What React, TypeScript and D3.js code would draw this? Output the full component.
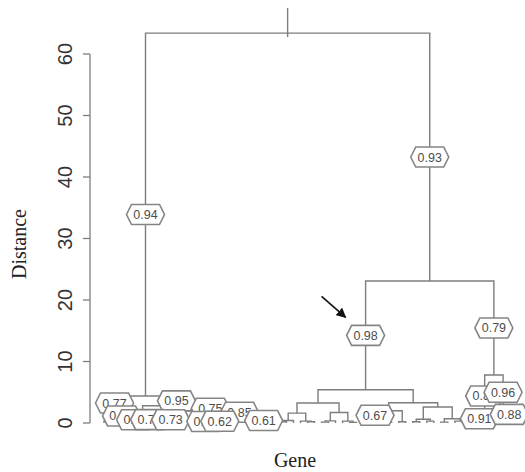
import * as d3 from "d3";

const leafCount = 60;

// hclust-style merge rows: [left, right, height]; negative = leaf (1-based), positive = earlier row (1-based)
const merges: [number, number, number][] = [
  [-1, -2, 0.3], [-3, -4, 0.2], [1, 2, 2.1], [-5, -6, 0.15], [-7, -8, 0.2],
  [4, 5, 0.9], [-9, -10, 0.05], [-11, -12, 0.05], [7, 8, 0.15], [-13, -14, 0.2],
  [9, 10, 0.9], [-15, -16, 0.1], [-17, -18, 0.15], [12, 13, 0.4], [-19, -20, 0.1],
  [14, 15, 0.7], [-21, -22, 0.1], [-24, -25, 0.05], [-23, 18, 0.2], [17, 19, 0.6],
  [16, 20, 1.5], [11, 21, 2.0], [6, 22, 2.8], [3, 23, 4.4],
  [-26, -27, 0.2], [25, -28, 0.4], [-30, -31, 0.2], [-29, 27, 0.3], [26, 28, 1.6],
  [-32, -33, 0.15], [30, -34, 0.35], [-36, -37, 0.1], [-35, 32, 0.3], [31, 33, 1.7],
  [29, 34, 3.25],
  [-38, -39, 0.2], [-41, -42, 0.1], [-40, 37, 0.15], [36, 38, 0.5], [-43, -44, 0.2],
  [39, 40, 2.0], [-45, -46, 0.2], [-47, -48, 0.3], [42, 43, 0.6], [-49, -50, 0.15],
  [-52, -53, 0.1], [-51, 46, 0.3], [45, 47, 0.7], [44, 48, 2.6], [41, 49, 3.3],
  [35, 50, 5.4],
  [-54, -55, 0.4], [52, -56, 1.0], [-59, -60, 0.2], [-58, 54, 0.6], [-57, 55, 2.2],
  [53, 56, 7.8], [51, 57, 23.1], [24, 58, 63.4],
];

// AU p-values shown in boxes, in drawing order
const auNodes = [24, 58, 51, 57, 3, 23, 22, 21, 2, 4, 5, 9, 12, 13, 19, 39, 53, 56, 52, 55];
const auValues = [0.94, 0.93, 0.98, 0.79, 0.77, 0.95, 0.75, 0.85, 0.48, 0.66, 0.74, 0.73, 0.45, 0.62, 0.61, 0.67, 0.83, 0.96, 0.91, 0.88];

const highlightNode = 51;
const stemTop = 67.5;
const yTicks = [0, 10, 20, 30, 40, 50, 60];

export default function App() {
  const width = 525;
  const height = 472;
  const x = d3.scaleLinear().domain([0, leafCount - 1]).range([104, 518]);
  const y = d3.scaleLinear().domain([0, 60]).range([423, 54]);

  const nodeX: number[] = [];
  const nodeH: number[] = [];
  const parentOf: number[] = [];
  const cx = (c: number) => (c < 0 ? x(-c - 1) : nodeX[c - 1]);
  const ch = (c: number) => (c < 0 ? 0 : nodeH[c - 1]);

  const paths: string[] = [];
  merges.forEach(([a, b, h], i) => {
    nodeX[i] = (cx(a) + cx(b)) / 2;
    nodeH[i] = h;
    if (a > 0) parentOf[a - 1] = i;
    if (b > 0) parentOf[b - 1] = i;
    paths.push(`M${cx(a)},${y(ch(a))}V${y(h)}H${cx(b)}V${y(ch(b))}`);
  });
  const root = merges.length - 1;
  paths.push(`M${nodeX[root]},${y(nodeH[root]) + 4}V${y(stemTop)}`);

  const labelPos = (k: number) => {
    const i = k - 1;
    const p = parentOf[i];
    return [nodeX[i], y((nodeH[i] + nodeH[p]) / 2)];
  };
  const [hx, hy] = labelPos(highlightNode);

  const hex = "-19,0 -14,-10 14,-10 19,0 14,10 -14,10";
  const grey = "#7d7d7d";

  return (
    <svg width={width} height={height} style={{ position: "absolute", left: 0, top: 0, background: "#fff" }}>
      <defs>
        <marker id="ah" viewBox="0 0 10 10" refX="9" refY="5" markerWidth="10" markerHeight="10" markerUnits="userSpaceOnUse" orient="auto">
          <path d="M0,0L10,5L0,10z" fill="#111" />
        </marker>
      </defs>

      <g fill="none" stroke={grey} strokeWidth={1.4}>
        {paths.map((d, i) => <path key={i} d={d} />)}
      </g>

      <g>
        <line x1={90} x2={90} y1={y(0)} y2={y(60)} stroke={grey} strokeWidth={1.3} />
        {yTicks.map((t) => (
          <g key={t}>
            <line x1={83} x2={90} y1={y(t)} y2={y(t)} stroke={grey} strokeWidth={1.3} />
            <text transform={`translate(72,${y(t)}) rotate(-90)`} textAnchor="middle" fontFamily="Liberation Sans, Arial, sans-serif" fontSize={20} fill="#333">
              {t}
            </text>
          </g>
        ))}
      </g>

      <g>
        {auNodes.map((k, i) => {
          const [lx, ly] = labelPos(k);
          return (
            <g key={k} transform={`translate(${lx},${ly})`}>
              <polygon points={hex} fill="#fff" stroke="#858585" strokeWidth={1.6} />
              <text textAnchor="middle" dy="0.36em" fontFamily="Liberation Sans, Arial, sans-serif" fontSize={12.5} fill="#4d4d4d">
                {auValues[i].toFixed(2)}
              </text>
            </g>
          );
        })}
      </g>

      <line x1={hx - 44} y1={hy - 39} x2={hx - 20} y2={hy - 18} stroke="#111" strokeWidth={1.6} markerEnd="url(#ah)" />

      <text transform="translate(26,244) rotate(-90)" textAnchor="middle" fontFamily="Liberation Serif, Times New Roman, serif" fontSize={20} fill="#222">
        Distance
      </text>
      <text x={295} y={467} textAnchor="middle" fontFamily="Liberation Serif, Times New Roman, serif" fontSize={20} fill="#222">
        Gene
      </text>
    </svg>
  );
}
